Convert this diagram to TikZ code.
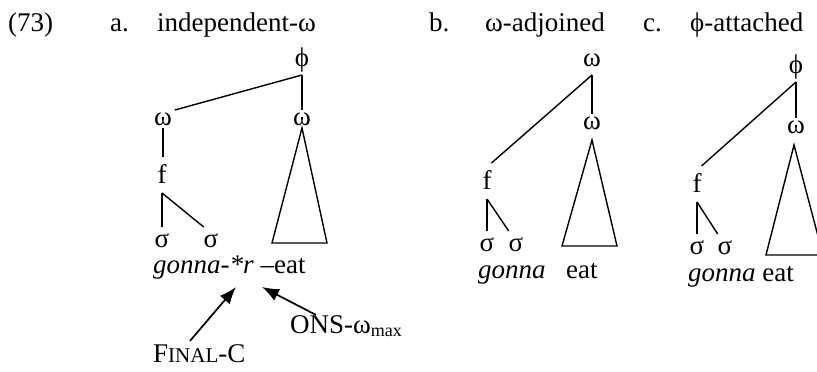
\documentclass[tikz,border=0pt]{standalone}
\usepackage{fontspec}
\setmainfont{Liberation Serif}
\usetikzlibrary{arrows.meta,calc}
\begin{document}
\begin{tikzpicture}[x=1pt,y=-1pt,
  every node/.style={font=\fontsize{27}{30}\selectfont, inner sep=0pt},
  lbl/.style={anchor=base west},
  om/.style={anchor=base, text height=12pt, text depth=0pt, outer sep=3pt},
  topn/.style={anchor=base, text height=13pt, text depth=6pt, outer sep=3pt},
  fn/.style={anchor=base, text height=26pt, text depth=10pt, outer sep=0pt},
  sg/.style={anchor=base, text height=20pt, text depth=0pt, outer sep=0pt},
  edge/.style={line width=1.4pt},
  arr/.style={line width=1.7pt, -{Latex[length=17pt,width=13pt]}},
]
\useasboundingbox (0,0) rectangle (817,372);
\clip (0,0) rectangle (817,372);

% headings
\node[lbl] (num) at (8,31) {(73)};
\node[lbl] (la) at (110,31) {a.};
\node[lbl] (ta) at (157,31) {independent-ω};
\node[lbl] (lb) at (429,31) {b.};
\node[lbl] (tb) at (485,31) {ω-adjoined};
\node[lbl] (lc) at (643,31) {c.};
\node[lbl] (tc) at (690,31) {ϕ-attached};

% tree a
\node[topn] (phiA) at (302,66) {ϕ};
\node[om] (wLA) at (163,125) {ω};
\node[om] (wRA) at (302,125) {ω};
\node[fn] (fA) at (162,183) {f};
\node[sg] (s1A) at (162,247) {σ};
\node[sg] (s2A) at (211,247) {σ};
\draw[edge] (phiA.south) -- (wLA.north east);
\draw[edge] (phiA.south) -- (wRA.north);
\draw[edge] (wLA.south) -- (wLA.south |- fA.north);
\draw[edge] (fA.south) -- (s1A.north);
\draw[edge] (fA.south) -- (s2A.north west);
\draw[edge] (wRA.south) -- ++(-30,115) -- ++(55,0) -- cycle;
\node[lbl] (gA) at (153,273) {\itshape gonna-*r\/\upshape{} –eat};

% constraints
\node[lbl] (onsN) at (290,333) {ONS-ω{\fontsize{18}{18}\selectfont\raisebox{-3pt}{max}}};
\node[lbl] (finN) at (153,362) {F{\fontsize{21}{21}\selectfont INAL}-C};
\coordinate (tipF) at (236,287);
\coordinate (tipO) at (262,287);
\draw[arr] ($(finN.north west)+(37,-3)$) -- (tipF);
\draw[arr] ($(onsN.north west)+(26,0)$) -- (tipO);

% tree b
\node[topn] (wB1) at (592,66) {ω};
\node[om] (wB2) at (592,129) {ω};
\node[fn] (fB) at (487,189) {f};
\node[sg] (s1B) at (487,251) {σ};
\node[sg] (s2B) at (516,251) {σ};
\draw[edge] (wB1.south) -- (fB.north east);
\draw[edge] (wB1.south) -- (wB2.north);
\draw[edge] (fB.south) -- (s1B.north);
\draw[edge] (fB.south) -- (s2B.north west);
\draw[edge] ($(wB2.south)+(0,8)$) -- ++(-30,106) -- ++(55,0) -- cycle;
\node[lbl] (gB) at (478,278) {\itshape gonna};
\node[lbl] (eB) at (566,278) {eat};

% tree c
\node[topn] (phiC) at (796,73) {ϕ};
\node[om] (wC2) at (796,133) {ω};
\node[fn] (fC) at (697,192) {f};
\node[sg] (s1C) at (697,254) {σ};
\node[sg] (s2C) at (725,254) {σ};
\draw[edge] (phiC.south) -- (fC.north east);
\draw[edge] (phiC.south) -- (wC2.north);
\draw[edge] (fC.south) -- (s1C.north);
\draw[edge] (fC.south) -- (s2C.north west);
\draw[edge] ($(wC2.south)+(-2,9)$) -- ++(-28,110) -- ++(57,0) -- cycle;
\node[lbl] (gC) at (688,281) {{\itshape gonna} eat};
\end{tikzpicture}
\end{document}
